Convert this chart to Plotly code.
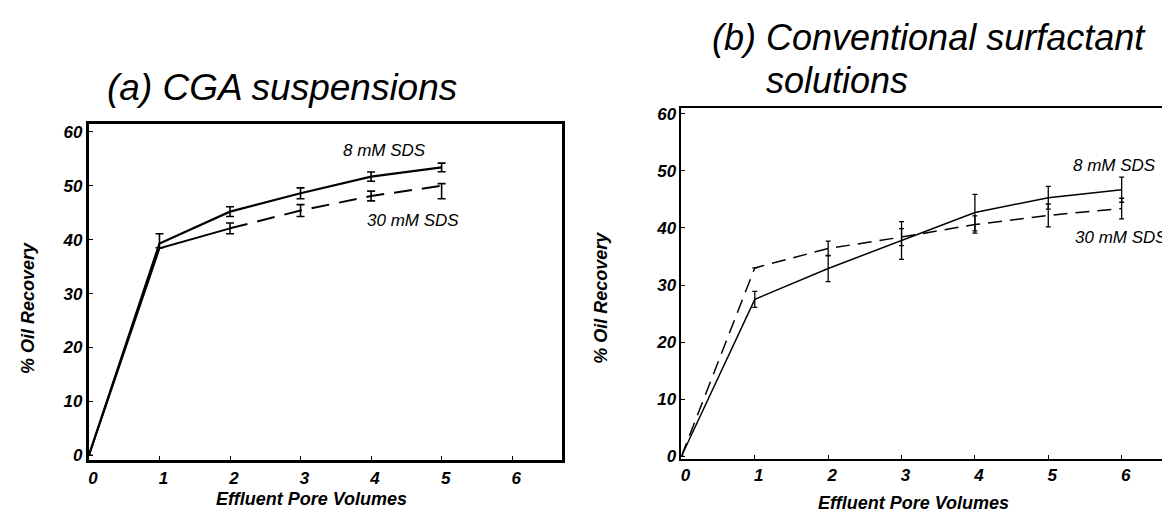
import plotly.graph_objects as go

W, H = 1170, 516

# ---------------- data ----------------
pore_a = [0, 1, 2, 3, 4, 5]
a_8mM = [0, 39.3, 45.2, 48.6, 51.7, 53.4]
a_8mM_err_plus = [None, 1.8, 0.9, 1.0, 0.85, 0.8]
a_8mM_err_minus = [None, 0.8, 0.9, 1.0, 0.85, 0.8]
a_30mM = [0, 38.4, 42.1, 45.4, 48.1, 50.0]
a_30mM_err_plus = [None, 0.0, 1.0, 1.1, 0.9, 0.4]
a_30mM_err_minus = [None, 0.0, 1.0, 1.1, 0.9, 2.4]

pore_b = [0, 1, 2, 3, 4, 5, 6]
b_8mM = [0, 27.5, 32.9, 37.8, 42.7, 45.3, 46.7]
b_8mM_err = [None, 1.4, 2.3, 3.3, 3.2, 2.0, 2.2]
b_30mM = [0, 33.0, 36.4, 38.4, 40.6, 42.2, 43.4]
b_30mM_err = [None, 0.0, 1.3, 1.5, 1.5, 2.0, 1.8]

x_ticks = [0, 1, 2, 3, 4, 5, 6]
y_ticks = [0, 10, 20, 30, 40, 50, 60]

title_a = "(a) CGA suspensions"
title_b1 = "(b) Conventional surfactant"
title_b2 = "solutions"
x_title = "Effluent Pore Volumes"
y_title = "% Oil Recovery"
lab_8 = "8 mM SDS"
lab_30 = "30 mM SDS"

FONT = "Liberation Sans, Arial, Helvetica, sans-serif"


def px(x):
    return x / W


def py(y):
    return 1 - y / H


fig = go.Figure()

# ---- panel (a) ----
fig.add_trace(go.Scatter(
    x=pore_a, y=a_8mM, mode="lines", xaxis="x", yaxis="y",
    line=dict(color="black", width=2.2),
    error_y=dict(type="data", symmetric=False, array=a_8mM_err_plus,
                 arrayminus=a_8mM_err_minus, width=4, thickness=1.6, color="black"),
    showlegend=False))
fig.add_trace(go.Scatter(
    x=pore_a[:3], y=a_30mM[:3], mode="lines", xaxis="x", yaxis="y",
    line=dict(color="black", width=2.0), showlegend=False))
fig.add_trace(go.Scatter(
    x=pore_a[2:], y=a_30mM[2:], mode="lines", xaxis="x", yaxis="y",
    line=dict(color="black", width=2.0, dash="18px,10px"),
    error_y=dict(type="data", symmetric=False, array=a_30mM_err_plus[2:],
                 arrayminus=a_30mM_err_minus[2:], width=4, thickness=1.6, color="black"),
    showlegend=False))

# ---- panel (b) ----
fig.add_trace(go.Scatter(
    x=pore_b, y=b_8mM, mode="lines", xaxis="x2", yaxis="y2",
    line=dict(color="black", width=1.5),
    error_y=dict(type="data", array=b_8mM_err, width=2.5, thickness=1.3, color="black"),
    showlegend=False))
fig.add_trace(go.Scatter(
    x=pore_b, y=b_30mM, mode="lines", xaxis="x2", yaxis="y2",
    line=dict(color="black", width=1.5, dash="14px,8px"),
    error_y=dict(type="data", array=b_30mM_err, width=2.5, thickness=1.3, color="black"),
    showlegend=False))

tickfont = dict(family=FONT, size=17, color="black", weight="bold", style="italic")

common_x = dict(range=[0, 6.7], tickvals=x_ticks, ticktext=[str(t) for t in x_ticks],
                showgrid=False, zeroline=False, showline=True, mirror=True,
                linecolor="black", ticks="inside", ticklen=4, tickcolor="black",
                tickfont=tickfont, ticklabelshift=4)
common_y = dict(tickvals=y_ticks, ticktext=[str(t) for t in y_ticks],
                showgrid=False, zeroline=False, showline=True, mirror=True,
                linecolor="black", ticks="inside", ticklen=4, tickcolor="black",
                tickfont=tickfont)

fig.update_layout(
    width=W, height=H, autosize=False,
    margin=dict(l=0, r=0, t=0, b=0),
    paper_bgcolor="white", plot_bgcolor="white",
    xaxis=dict(domain=[px(80), px(553)], anchor="y", linewidth=3, **common_x),
    yaxis=dict(domain=[py(458), py(115)], anchor="x", range=[-0.9, 61.5],
               linewidth=3, **common_y),
    xaxis2=dict(domain=[px(673), px(1165)], anchor="y2", linewidth=1.8, **common_x),
    yaxis2=dict(domain=[py(457), py(99)], anchor="x2", range=[-0.5, 61],
                linewidth=1.8, **common_y),
)

ann = []


def add_text(text, x, y, size, xanchor="center", bold=False, angle=0):
    ann.append(dict(text=text, x=px(x), y=py(y), xref="paper", yref="paper",
                    xanchor=xanchor, yanchor="middle", showarrow=False,
                    textangle=angle, borderpad=0,
                    font=dict(family=FONT, size=size, color="black",
                              style="italic", weight="bold" if bold else "normal")))


# titles
add_text(title_a, 273, 78, 37)
add_text(title_b1, 921, 27, 36)
add_text(title_b2, 757, 71, 36, xanchor="left")
# axis titles
add_text(x_title, 303, 498, 18, bold=True)
add_text(x_title, 905, 502, 18, bold=True)
add_text(y_title, 19, 303, 18, bold=True, angle=-90)
add_text(y_title, 593, 292, 18, bold=True, angle=-90)
# curve labels
add_text(lab_8, 333, 142, 17, xanchor="left")
add_text(lab_30, 357, 214, 17, xanchor="left")
add_text(lab_8, 1064, 158, 17, xanchor="left")
add_text(lab_30, 1066, 231, 17, xanchor="left")

fig.update_layout(annotations=ann)

fig.write_html("out.html")
